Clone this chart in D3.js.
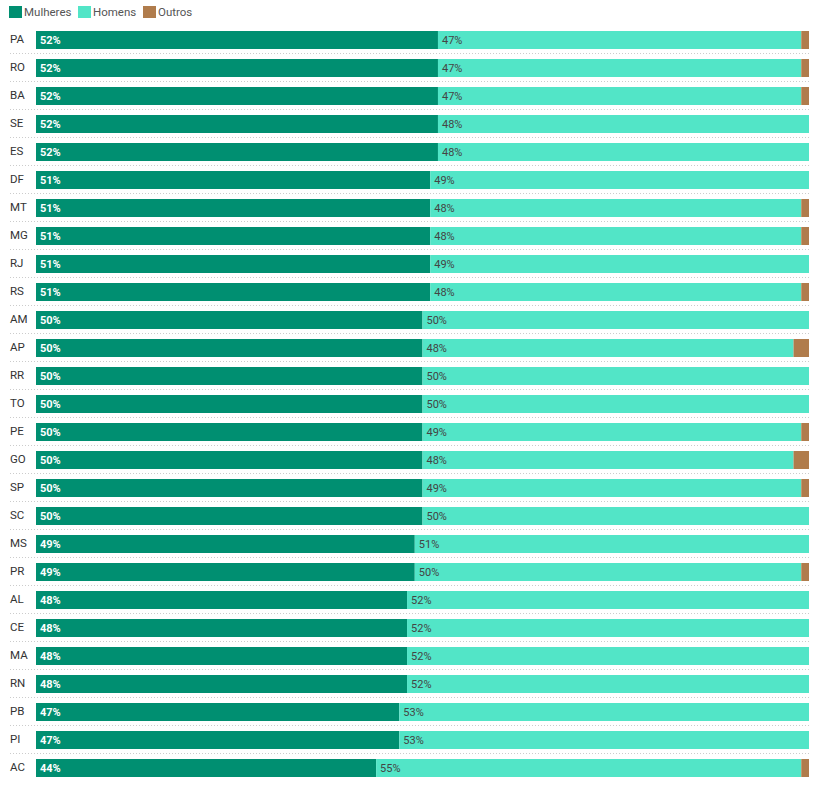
<!DOCTYPE html>
<html><head><meta charset="utf-8">
<script src="https://cdn.jsdelivr.net/npm/d3@7"></script>
<style>body{margin:0;background:#fff;font-family:Roboto,sans-serif;}</style>
</head><body><svg id="c" width="825" height="787"></svg>
<script>
const states = ["PA","RO","BA","SE","ES","DF","MT","MG","RJ","RS","AM","AP","RR","TO","PE","GO","SP","SC","MS","PR","AL","CE","MA","RN","PB","PI","AC"];
const mulheres = [52,52,52,52,52,51,51,51,51,51,50,50,50,50,50,50,50,50,49,49,48,48,48,48,47,47,44];
const homens   = [47,47,47,48,48,49,48,48,49,48,50,48,50,50,49,48,49,50,51,50,52,52,52,52,53,53,55];
const outros   = [1,1,1,0,0,0,1,1,0,1,0,2,0,0,1,2,1,0,0,1,0,0,0,0,0,0,1];
const seriesNames = ["Mulheres","Homens","Outros"];
const colors = ["#008f71","#52e5c7","#b07c4c"];

const svg = d3.select("#c");
const x = d3.scaleLinear().domain([0,100]).range([36,809]);
const y = d3.scaleBand().domain(states).range([31-5,31-5+28*states.length]).paddingInner(10/28).paddingOuter(5/28);

const data = states.map((s,i)=>({s, Mulheres:mulheres[i], Homens:homens[i], Outros:outros[i]}));
const stack = d3.stack().keys(seriesNames)(data);

// separators
svg.append("g").selectAll("line").data(states.slice(1)).join("line")
  .attr("x1",10).attr("x2",809)
  .attr("y1",d=>y(d)-5.5).attr("y2",d=>y(d)-5.5)
  .attr("stroke","#ccc").attr("stroke-width",1).attr("stroke-dasharray","1,2");

svg.append("g").selectAll("g").data(stack).join("g")
  .attr("fill",(d,i)=>colors[i])
  .selectAll("rect").data(d=>d).join("rect")
  .attr("x",d=>x(d[0])).attr("width",d=>x(d[1])-x(d[0]))
  .attr("y",d=>y(d.data.s)).attr("height",y.bandwidth());

// value labels
svg.append("g").selectAll("text").data(data).join("text")
  .attr("x",x(0)+4).attr("y",d=>y(d.s)+y.bandwidth()/2).attr("dy","0.35em")
  .attr("fill","#fff").attr("font-weight","bold").attr("font-size",11)
  .text(d=>d.Mulheres+"%");
svg.append("g").selectAll("text").data(data).join("text")
  .attr("x",d=>x(d.Mulheres)+4).attr("y",d=>y(d.s)+y.bandwidth()/2).attr("dy","0.35em")
  .attr("fill","#444").attr("font-size",11)
  .text(d=>d.Homens+"%");

// category axis labels
svg.append("g").selectAll("text").data(states).join("text")
  .attr("x",10).attr("y",d=>y(d)+y.bandwidth()/2-1).attr("dy","0.35em")
  .attr("fill","#333").attr("font-size",11.5)
  .text(d=>d);

// legend
const legX = [9,78,143];
const lg = svg.append("g").selectAll("g").data(seriesNames).join("g")
  .attr("transform",(d,i)=>`translate(${legX[i]},6)`);
lg.append("rect").attr("width",13).attr("height",12).attr("fill",(d,i)=>colors[i]);
lg.append("text").attr("x",15).attr("y",6).attr("dy","0.35em")
  .attr("fill","#555").attr("font-size",11.5).text(d=>d);
</script></body></html>
